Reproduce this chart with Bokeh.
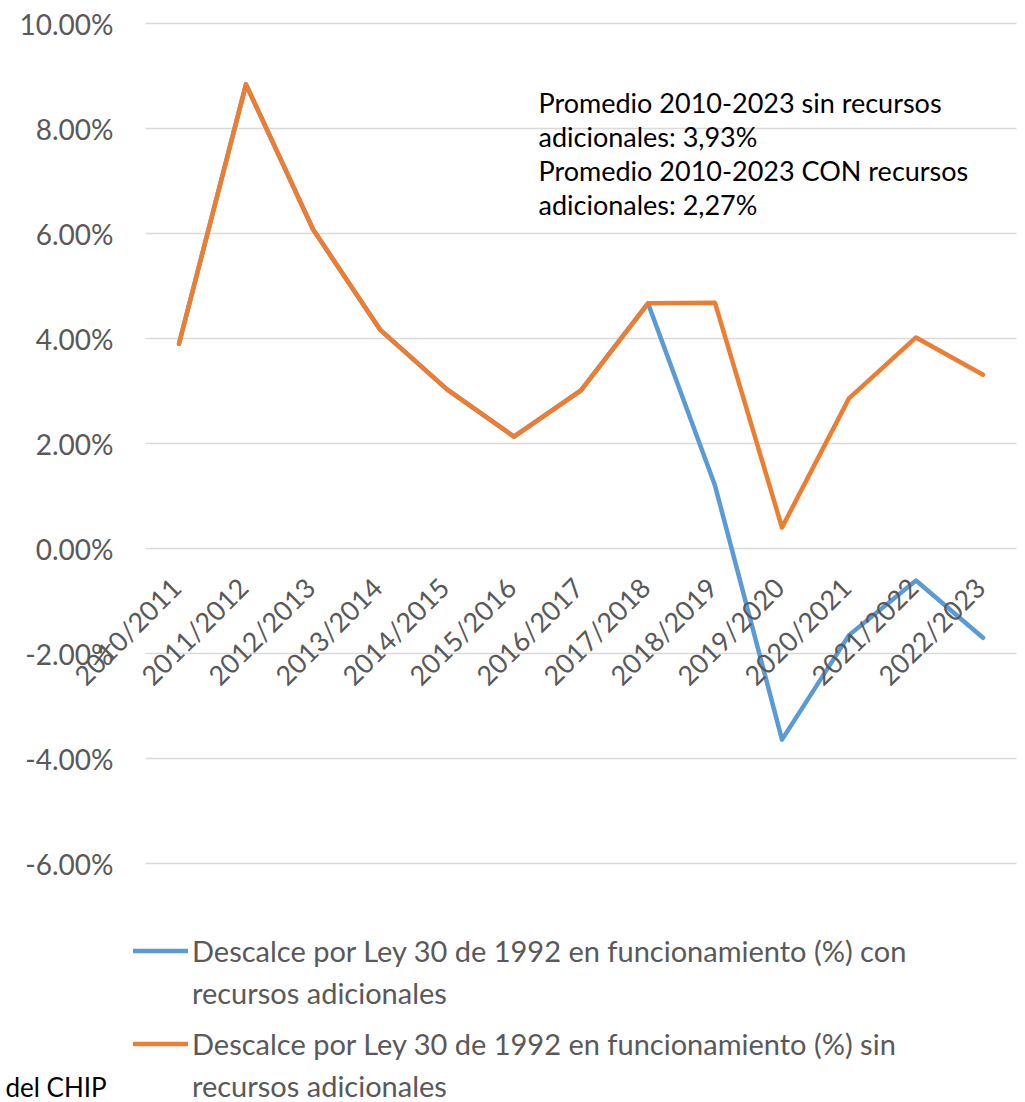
import math
from bokeh.plotting import figure
from bokeh.models import Range1d, Legend, LegendItem, Label
from bokeh.core.properties import value
from bokeh.embed import file_html
from bokeh.resources import INLINE

# ---------------- data ----------------
categories = ["2010/2011", "2011/2012", "2012/2013", "2013/2014", "2014/2015",
              "2015/2016", "2016/2017", "2017/2018", "2018/2019", "2019/2020",
              "2020/2021", "2021/2022", "2022/2023"]
sin_recursos = [0.0390, 0.0884, 0.0608, 0.0417, 0.0303, 0.0213, 0.0301,
                0.0467, 0.0468, 0.0040, 0.0286, 0.0402, 0.0331]
con_recursos = [0.0390, 0.0884, 0.0608, 0.0417, 0.0303, 0.0213, 0.0301,
                0.0467, 0.0120, -0.0364, -0.0165, -0.0061, -0.0170]
y_ticks = [-0.06, -0.04, -0.02, 0.0, 0.02, 0.04, 0.06, 0.08, 0.10]
y_tick_labels = ["-6.00%", "-4.00%", "-2.00%", "0.00%", "2.00%", "4.00%",
                 "6.00%", "8.00%", "10.00%"]
legend_con = ["Descalce por Ley 30 de 1992 en funcionamiento (%) con", "recursos adicionales"]
legend_sin = ["Descalce por Ley 30 de 1992 en funcionamiento (%) sin", "recursos adicionales"]
note_lines = ["Promedio 2010-2023 sin recursos", "adicionales: 3,93%",
              "Promedio 2010-2023 CON recursos", "adicionales: 2,27%"]
source_note = "del CHIP"

BLUE = "#5B9BD5"
ORANGE = "#ED7D31"
GREY = "#595959"
FONT = "Lato"

# category band positions (one unit per category, centred in its band)
n_cat = len(categories)
x_pos = [i + 0.5 for i in range(n_cat)]
axis_level = [0.0] * n_cat
tick_anchor = [0.0] * len(y_ticks)

BAND_PX = 67.0          # width of one category band
PLOT_LEFT_PX = 145.0    # where the category area starts
PX_PER_UNIT = 5250.0    # vertical pixels per 1.0 (100%)
TOP_PX = 23.0           # pixel row of the 10% gridline
W, H = 1017, 1102

y_top = y_ticks[-1] + TOP_PX / PX_PER_UNIT
y_bottom = y_top - H / PX_PER_UNIT

p = figure(width=W, height=H,
           x_range=Range1d(-PLOT_LEFT_PX / BAND_PX, (W - PLOT_LEFT_PX) / BAND_PX),
           y_range=Range1d(y_bottom, y_top),
           output_backend="svg", toolbar_location=None,
           x_axis_location=None, y_axis_location=None,
           min_border_left=0, min_border_right=0, min_border_top=0, min_border_bottom=0)
p.outline_line_color = None
p.background_fill_color = "white"
p.border_fill_color = "white"
p.xgrid.visible = False
p.ygrid.visible = False

# horizontal gridlines across the category area
p.segment(x0=0, x1=n_cat, y0=y_ticks, y1=y_ticks, line_color="#d9d9d9", line_width=1.3)

# value-axis tick labels
p.text(x=tick_anchor, y=y_ticks, text=y_tick_labels, x_offset=-32,
       text_align="right", text_baseline="middle",
       text_font=value(FONT), text_font_size="28px", text_color=GREY)

# series
r_con = p.line(x=x_pos, y=con_recursos, line_color=BLUE, line_width=4.5,
               line_join="round", line_cap="round")
r_sin = p.line(x=x_pos, y=sin_recursos, line_color=ORANGE, line_width=4.5,
               line_join="round", line_cap="round")
r_blank = p.line(x=[], y=[], line_alpha=0)

# category labels at the zero line
p.text(x=x_pos, y=axis_level, text=categories, angle=math.pi / 4,
       text_align="right", text_baseline="middle", x_offset=-3, y_offset=34,
       text_font=value(FONT), text_font_size="27px", text_color=GREY)

# annotation
for i, line in enumerate(note_lines):
    p.add_layout(Label(x=538, y=1000 - 34 * i, x_units="screen", y_units="screen",
                       text=line, text_font=FONT, text_font_size="27px",
                       text_color="black", text_baseline="alphabetic"))

p.add_layout(Label(x=5, y=16, x_units="screen", y_units="screen",
                   text=source_note, text_font=FONT, text_font_size="26px",
                   text_color="black", text_baseline="alphabetic"))

def make_legend(labels, renderer, loc):
    return Legend(items=[LegendItem(label=labels[0], renderers=[renderer]),
                         LegendItem(label=labels[1], renderers=[r_blank])],
                  location=loc, orientation="vertical", padding=0, margin=0,
                  spacing=7, label_height=35, glyph_height=35, glyph_width=55,
                  label_standoff=4, border_line_color=None, background_fill_alpha=0,
                  label_text_font=FONT, label_text_font_size="29px",
                  label_text_color=GREY)

p.add_layout(make_legend(legend_con, r_con, (133, 92)))
p.add_layout(make_legend(legend_sin, r_sin, (133, -1)))

open("out.html", "w").write(file_html(p, INLINE))
